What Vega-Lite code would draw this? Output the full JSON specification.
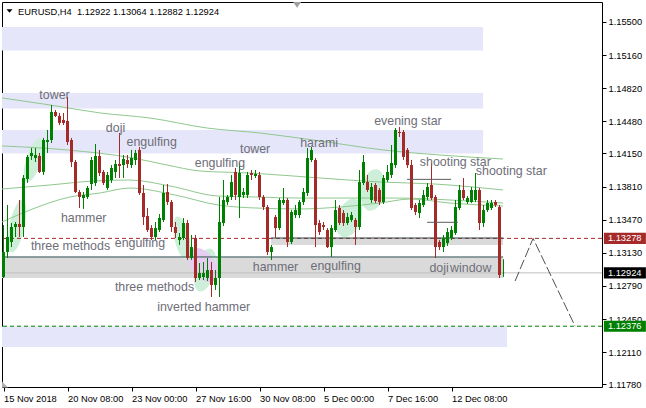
{
"$schema": "https://vega.github.io/schema/vega-lite/v6.json",
"width": 600, "height": 385,
"autosize": {"type": "none"},
"padding": {"left": 2, "top": 2, "right": 44, "bottom": 21},
"background": "white",
"config": {"view": {"stroke": "black", "strokeWidth": 1}, "font": "Liberation Sans", "scale": {"continuousPadding": 0}},
"datasets": {
"candles": [
{"i":0,"o":1.12881,"h":1.13415,"l":1.12871,"c":1.13138},
{"i":1,"o":1.13138,"h":1.13621,"l":1.13076,"c":1.13292},
{"i":2,"o":1.13241,"h":1.13436,"l":1.13189,"c":1.13395},
{"i":3,"o":1.13395,"h":1.13446,"l":1.13292,"c":1.13426},
{"i":4,"o":1.13426,"h":1.13672,"l":1.13292,"c":1.13395},
{"i":5,"o":1.13395,"h":1.13929,"l":1.13292,"c":1.13898},
{"i":6,"o":1.13888,"h":1.14134,"l":1.13847,"c":1.14114},
{"i":7,"o":1.14124,"h":1.14206,"l":1.14083,"c":1.14155},
{"i":8,"o":1.14103,"h":1.14206,"l":1.14062,"c":1.14134},
{"i":9,"o":1.14124,"h":1.14155,"l":1.13949,"c":1.13960},
{"i":10,"o":1.13960,"h":1.14309,"l":1.13929,"c":1.14288},
{"i":11,"o":1.14268,"h":1.14391,"l":1.14155,"c":1.14288},
{"i":12,"o":1.14288,"h":1.14648,"l":1.14257,"c":1.14576},
{"i":13,"o":1.14576,"h":1.14596,"l":1.14524,"c":1.14535},
{"i":14,"o":1.14535,"h":1.14566,"l":1.14442,"c":1.14463},
{"i":15,"o":1.14494,"h":1.14566,"l":1.14442,"c":1.14463},
{"i":16,"o":1.14483,"h":1.14730,"l":1.14237,"c":1.14268},
{"i":17,"o":1.14288,"h":1.14309,"l":1.14011,"c":1.14062},
{"i":18,"o":1.14062,"h":1.14083,"l":1.13744,"c":1.13754},
{"i":19,"o":1.13754,"h":1.13775,"l":1.13590,"c":1.13703},
{"i":20,"o":1.13692,"h":1.13754,"l":1.13580,"c":1.13723},
{"i":21,"o":1.13703,"h":1.13816,"l":1.13682,"c":1.13795},
{"i":22,"o":1.13836,"h":1.14114,"l":1.13775,"c":1.14083},
{"i":23,"o":1.13847,"h":1.14247,"l":1.13816,"c":1.14124},
{"i":24,"o":1.14124,"h":1.14186,"l":1.13918,"c":1.13949},
{"i":25,"o":1.13960,"h":1.13980,"l":1.13826,"c":1.13847},
{"i":26,"o":1.13795,"h":1.13960,"l":1.13775,"c":1.13929},
{"i":27,"o":1.13877,"h":1.14031,"l":1.13847,"c":1.14001},
{"i":28,"o":1.13960,"h":1.14083,"l":1.13898,"c":1.14042},
{"i":29,"o":1.14042,"h":1.14360,"l":1.13898,"c":1.14021},
{"i":30,"o":1.14031,"h":1.14134,"l":1.13898,"c":1.14093},
{"i":31,"o":1.14083,"h":1.14134,"l":1.14001,"c":1.14042},
{"i":32,"o":1.14031,"h":1.14186,"l":1.14001,"c":1.14103},
{"i":33,"o":1.14083,"h":1.14186,"l":1.14031,"c":1.14155},
{"i":34,"o":1.14186,"h":1.14216,"l":1.13723,"c":1.13744},
{"i":35,"o":1.13744,"h":1.13826,"l":1.13415,"c":1.13497},
{"i":36,"o":1.13508,"h":1.13590,"l":1.13343,"c":1.13364},
{"i":37,"o":1.13384,"h":1.13415,"l":1.13261,"c":1.13292},
{"i":38,"o":1.13292,"h":1.13446,"l":1.13261,"c":1.13384},
{"i":39,"o":1.13364,"h":1.13528,"l":1.13343,"c":1.13487},
{"i":40,"o":1.13467,"h":1.13826,"l":1.13446,"c":1.13744},
{"i":41,"o":1.13754,"h":1.13836,"l":1.13621,"c":1.13651},
{"i":42,"o":1.13651,"h":1.13672,"l":1.13343,"c":1.13395},
{"i":43,"o":1.13395,"h":1.13446,"l":1.13282,"c":1.13333},
{"i":44,"o":1.13261,"h":1.13333,"l":1.13210,"c":1.13292},
{"i":45,"o":1.13282,"h":1.13487,"l":1.13261,"c":1.13436},
{"i":46,"o":1.13436,"h":1.13467,"l":1.13056,"c":1.13076},
{"i":47,"o":1.13076,"h":1.13313,"l":1.13056,"c":1.13189},
{"i":48,"o":1.13282,"h":1.13313,"l":1.12830,"c":1.12871},
{"i":49,"o":1.12871,"h":1.13025,"l":1.12850,"c":1.12922},
{"i":50,"o":1.12881,"h":1.13035,"l":1.12850,"c":1.12922},
{"i":51,"o":1.12871,"h":1.13076,"l":1.12840,"c":1.12953},
{"i":52,"o":1.12953,"h":1.13035,"l":1.12676,"c":1.12799},
{"i":53,"o":1.12799,"h":1.12953,"l":1.12748,"c":1.12871},
{"i":54,"o":1.12871,"h":1.13703,"l":1.12676,"c":1.13446},
{"i":55,"o":1.13436,"h":1.13877,"l":1.13405,"c":1.13672},
{"i":56,"o":1.13651,"h":1.13723,"l":1.13621,"c":1.13703},
{"i":57,"o":1.13703,"h":1.13929,"l":1.13672,"c":1.13857},
{"i":58,"o":1.13960,"h":1.14001,"l":1.13672,"c":1.13723},
{"i":59,"o":1.13703,"h":1.14052,"l":1.13487,"c":1.13949},
{"i":60,"o":1.13723,"h":1.13795,"l":1.13692,"c":1.13754},
{"i":61,"o":1.13723,"h":1.13960,"l":1.13692,"c":1.13929},
{"i":62,"o":1.13949,"h":1.13980,"l":1.13877,"c":1.13929},
{"i":63,"o":1.13918,"h":1.13980,"l":1.13898,"c":1.13939},
{"i":64,"o":1.13929,"h":1.13960,"l":1.13672,"c":1.13703},
{"i":65,"o":1.13703,"h":1.13723,"l":1.13569,"c":1.13600},
{"i":66,"o":1.13600,"h":1.13621,"l":1.13107,"c":1.13138},
{"i":67,"o":1.13138,"h":1.13210,"l":1.13056,"c":1.13189},
{"i":68,"o":1.13497,"h":1.13518,"l":1.13282,"c":1.13384},
{"i":69,"o":1.13384,"h":1.13692,"l":1.13364,"c":1.13672},
{"i":70,"o":1.13641,"h":1.13795,"l":1.13621,"c":1.13672},
{"i":71,"o":1.13672,"h":1.13692,"l":1.13189,"c":1.13241},
{"i":72,"o":1.13241,"h":1.13569,"l":1.13220,"c":1.13549},
{"i":73,"o":1.13518,"h":1.13621,"l":1.13487,"c":1.13569},
{"i":74,"o":1.13518,"h":1.13672,"l":1.13487,"c":1.13651},
{"i":75,"o":1.13651,"h":1.13795,"l":1.13621,"c":1.13754},
{"i":76,"o":1.13744,"h":1.14206,"l":1.13713,"c":1.14103},
{"i":77,"o":1.14083,"h":1.14216,"l":1.14062,"c":1.14186},
{"i":78,"o":1.14083,"h":1.14103,"l":1.13189,"c":1.13415},
{"i":79,"o":1.13436,"h":1.13467,"l":1.13313,"c":1.13343},
{"i":80,"o":1.13415,"h":1.13446,"l":1.13364,"c":1.13395},
{"i":81,"o":1.13364,"h":1.13384,"l":1.13179,"c":1.13189},
{"i":82,"o":1.13189,"h":1.13415,"l":1.13087,"c":1.13384},
{"i":83,"o":1.13364,"h":1.13672,"l":1.13343,"c":1.13569},
{"i":84,"o":1.13590,"h":1.13621,"l":1.13415,"c":1.13436},
{"i":85,"o":1.13539,"h":1.13569,"l":1.13405,"c":1.13436},
{"i":86,"o":1.13436,"h":1.13539,"l":1.13415,"c":1.13497},
{"i":87,"o":1.13467,"h":1.13549,"l":1.13446,"c":1.13518},
{"i":88,"o":1.13467,"h":1.13487,"l":1.13210,"c":1.13395},
{"i":89,"o":1.13395,"h":1.13980,"l":1.13364,"c":1.13857},
{"i":90,"o":1.13847,"h":1.14134,"l":1.13826,"c":1.14062},
{"i":91,"o":1.13857,"h":1.13929,"l":1.13754,"c":1.13775},
{"i":92,"o":1.13672,"h":1.13847,"l":1.13641,"c":1.13806},
{"i":93,"o":1.13826,"h":1.13847,"l":1.13641,"c":1.13662},
{"i":94,"o":1.13775,"h":1.13795,"l":1.13621,"c":1.13651},
{"i":95,"o":1.13651,"h":1.13929,"l":1.13631,"c":1.13898},
{"i":96,"o":1.13877,"h":1.14031,"l":1.13857,"c":1.13960},
{"i":97,"o":1.13929,"h":1.14237,"l":1.13898,"c":1.14052},
{"i":98,"o":1.14031,"h":1.14411,"l":1.14001,"c":1.14391},
{"i":99,"o":1.14370,"h":1.14422,"l":1.14319,"c":1.14360},
{"i":100,"o":1.14370,"h":1.14391,"l":1.14083,"c":1.14114},
{"i":101,"o":1.14186,"h":1.14206,"l":1.14001,"c":1.14031},
{"i":102,"o":1.14031,"h":1.14083,"l":1.13569,"c":1.13590},
{"i":103,"o":1.13621,"h":1.13641,"l":1.13518,"c":1.13549},
{"i":104,"o":1.13539,"h":1.13672,"l":1.13487,"c":1.13641},
{"i":105,"o":1.13621,"h":1.13775,"l":1.13600,"c":1.13723},
{"i":106,"o":1.13703,"h":1.13847,"l":1.13672,"c":1.13806},
{"i":107,"o":1.13826,"h":1.14052,"l":1.13672,"c":1.13692},
{"i":108,"o":1.13703,"h":1.13723,"l":1.13076,"c":1.13189},
{"i":109,"o":1.13241,"h":1.13261,"l":1.13159,"c":1.13189},
{"i":110,"o":1.13189,"h":1.13313,"l":1.13138,"c":1.13282},
{"i":111,"o":1.13230,"h":1.13384,"l":1.13200,"c":1.13343},
{"i":112,"o":1.13282,"h":1.13405,"l":1.13261,"c":1.13364},
{"i":113,"o":1.13333,"h":1.13672,"l":1.13313,"c":1.13600},
{"i":114,"o":1.13590,"h":1.13826,"l":1.13569,"c":1.13775},
{"i":115,"o":1.13775,"h":1.13898,"l":1.13672,"c":1.13692},
{"i":116,"o":1.13651,"h":1.13713,"l":1.13631,"c":1.13692},
{"i":117,"o":1.13651,"h":1.13806,"l":1.13641,"c":1.13775},
{"i":118,"o":1.13672,"h":1.13949,"l":1.13651,"c":1.13775},
{"i":119,"o":1.13775,"h":1.13795,"l":1.13364,"c":1.13436},
{"i":120,"o":1.13436,"h":1.13621,"l":1.13395,"c":1.13569},
{"i":121,"o":1.13569,"h":1.13672,"l":1.13549,"c":1.13641},
{"i":122,"o":1.13590,"h":1.13672,"l":1.13569,"c":1.13641},
{"i":123,"o":1.13651,"h":1.13672,"l":1.13600,"c":1.13621},
{"i":124,"o":1.13600,"h":1.13621,"l":1.12871,"c":1.12902},
{"i":125,"o":1.12922,"h":1.13064,"l":1.12882,"c":1.12924}
],
"ma": [
{"line":"a","i":-0.375,"p":1.14720},{"line":"a","i":11.6,"p":1.14648},{"line":"a","i":24.1,"p":1.14566},{"line":"a","i":36.6,"p":1.14514},{"line":"a","i":50.9,"p":1.14411},{"line":"a","i":64.1,"p":1.14360},{"line":"a","i":79.1,"p":1.14278},{"line":"a","i":94.9,"p":1.14186},{"line":"a","i":109.1,"p":1.14134},{"line":"a","i":124.9,"p":1.14093},
{"line":"b","i":-0.375,"p":1.14227},{"line":"b","i":15.9,"p":1.14186},{"line":"b","i":32.4,"p":1.14103},{"line":"b","i":40.9,"p":1.14031},{"line":"b","i":49.1,"p":1.13970},{"line":"b","i":61.6,"p":1.13949},{"line":"b","i":79.1,"p":1.13898},{"line":"b","i":94.1,"p":1.13857},{"line":"b","i":107.9,"p":1.13836},{"line":"b","i":124.9,"p":1.13775},
{"line":"c","i":-0.375,"p":1.13785},{"line":"c","i":11.6,"p":1.13826},{"line":"c","i":22.4,"p":1.13867},{"line":"c","i":31.6,"p":1.13877},{"line":"c","i":41.6,"p":1.13816},{"line":"c","i":53.6,"p":1.13713},{"line":"c","i":62.9,"p":1.13703},{"line":"c","i":74.1,"p":1.13692},{"line":"c","i":84.1,"p":1.13692},{"line":"c","i":99.1,"p":1.13692},{"line":"c","i":111.6,"p":1.13672},{"line":"c","i":124.9,"p":1.13641},
{"line":"d","i":-0.375,"p":1.13446},{"line":"d","i":6.6,"p":1.13569},{"line":"d","i":16.6,"p":1.13703},{"line":"d","i":24.1,"p":1.13744},{"line":"d","i":31.6,"p":1.13795},{"line":"d","i":42.9,"p":1.13723},{"line":"d","i":53.6,"p":1.13621},{"line":"d","i":62.9,"p":1.13590},{"line":"d","i":74.1,"p":1.13580},{"line":"d","i":84.1,"p":1.13600},{"line":"d","i":94.1,"p":1.13641},{"line":"d","i":101.6,"p":1.13682},{"line":"d","i":111.6,"p":1.13641},{"line":"d","i":124.9,"p":1.13610}
],
"zones": [
{"kind":"lav","i1":-0.375,"i2":119.9,"p1":1.15449,"p2":1.15207},
{"kind":"lav","i1":-0.375,"i2":119.9,"p1":1.14771,"p2":1.14612},
{"kind":"lav","i1":-0.375,"i2":119.9,"p1":1.14391,"p2":1.14150},
{"kind":"lav","i1":-0.375,"i2":125.9,"p1":1.12373,"p2":1.12162},
{"kind":"gray","i1":-0.375,"i2":124.9,"p1":1.13087,"p2":1.12871},
{"kind":"gray","i1":66.9,"i2":124.9,"p1":1.13282,"p2":1.13210}
],
"labels": [
{"t":"tower","i":12.75,"p":1.14704},
{"t":"doji","i":28,"p":1.14370},
{"t":"engulfing","i":37.05,"p":1.14227},
{"t":"tower","i":62.9,"p":1.14158},
{"t":"engulfing","i":54.1,"p":1.14014},
{"t":"hammer","i":20.05,"p":1.13443},
{"t":"three methods","i":16.75,"p":1.13159},
{"t":"engulfing","i":34.1,"p":1.13192},
{"t":"three methods","i":37.75,"p":1.12737},
{"t":"inverted hammer","i":50.05,"p":1.12535},
{"t":"hammer","i":68,"p":1.12948},
{"t":"engulfing","i":83.05,"p":1.12953},
{"t":"harami","i":78.9,"p":1.14213},
{"t":"evening star","i":101.1,"p":1.14442},
{"t":"shooting star","i":112.95,"p":1.14021},
{"t":"shooting star","i":126.95,"p":1.13929},
{"t":"doji","i":108.9,"p":1.12936},
{"t":"window","i":116.8,"p":1.12936}
],
"boxes": [
{"t":"1.13278","p":1.13278,"p1":1.13221,"p2":1.13335,"k":"r"},
{"t":"1.12924","p":1.12924,"p1":1.12867,"p2":1.12981,"k":"k"},
{"t":"1.12376","p":1.12376,"p1":1.12319,"p2":1.12433,"k":"g"}
]
},
"layer": [
{"data":{"name":"zones"},"mark":{"type":"rect"},
 "encoding":{"x":{"field":"i1","type":"quantitative","scale":{"domain":[-0.375,149.625],"nice":false,"zero":false,"padding":0},
   "axis":{"orient":"bottom","values":[0,16,32,48,64,80,96,112],"tickCount":40,"labelExpr":"['15 Nov 2018','20 Nov 08:00','23 Nov 00:00','27 Nov 16:00','30 Nov 08:00','5 Dec 00:00','7 Dec 16:00','12 Dec 08:00'][round(datum.value/16)]","title":null,"grid":false,"domain":false,"ticks":true,"tickSize":4,"tickColor":"black","labelAlign":"left","labelBaseline":"top","labelPadding":3,"labelFont":"Liberation Sans","labelFontSize":9.3,"labelColor":"black","labelOverlap":false,"labelFlush":false,"labelBound":false}},
  "x2":{"field":"i2"},
  "y":{"field":"p1","type":"quantitative","scale":{"domain":[1.11752,1.15705],"nice":false,"zero":false,"padding":0},
   "axis":{"orient":"right","values":[1.155,1.1516,1.1482,1.1448,1.1415,1.1381,1.1347,1.1313,1.1279,1.1245,1.1211,1.1178],"tickCount":40,"format":".5f","title":null,"grid":false,"domain":false,"ticks":true,"tickSize":4,"tickColor":"black","labelPadding":2,"labelFont":"Liberation Sans","labelFontSize":9.3,"labelColor":"black","labelBaseline":"middle","labelAlign":"left","labelBound":false,"labelOverlap":false,"labelFlush":false}},
  "y2":{"field":"p2"},
  "color":{"field":"kind","type":"nominal","scale":{"domain":["lav","gray"],"range":["#e6e6fa","#dadada"]},"legend":null}}},
{"data":{"values":[{"i":3.4,"p":1.13405}]},"mark":{"type":"point","filled":true,"opacity":1,"color":"#cdeed9","shape":"M0,-1 A0.28,1 0 1,1 0,1 A0.28,1 0 1,1 0,-1 Z","size":2916,"angle":12,"strokeWidth":0},
 "encoding":{"x":{"field":"i","type":"quantitative","scale":{"domain":[-0.375,149.625],"nice":false,"zero":false,"padding":0}},"y":{"field":"p","type":"quantitative","scale":{"domain":[1.11752,1.15705],"nice":false,"zero":false,"padding":0}}}},
{"data":{"values":[{"i":7.6,"p":1.14083}]},"mark":{"type":"point","filled":true,"opacity":1,"color":"#cdeed9","shape":"M0,-1 A0.33,1 0 1,1 0,1 A0.33,1 0 1,1 0,-1 Z","size":2116,"angle":18,"strokeWidth":0},
 "encoding":{"x":{"field":"i","type":"quantitative","scale":{"domain":[-0.375,149.625],"nice":false,"zero":false,"padding":0}},"y":{"field":"p","type":"quantitative","scale":{"domain":[1.11752,1.15705],"nice":false,"zero":false,"padding":0}}}},
{"data":{"values":[{"i":44.6,"p":1.13282}]},"mark":{"type":"point","filled":true,"opacity":1,"color":"#cdeed9","shape":"M0,-1 A0.34,1 0 1,1 0,1 A0.34,1 0 1,1 0,-1 Z","size":1936,"angle":-12,"strokeWidth":0},
 "encoding":{"x":{"field":"i","type":"quantitative","scale":{"domain":[-0.375,149.625],"nice":false,"zero":false,"padding":0}},"y":{"field":"p","type":"quantitative","scale":{"domain":[1.11752,1.15705],"nice":false,"zero":false,"padding":0}}}},
{"data":{"values":[{"i":50.4,"p":1.12953}]},"mark":{"type":"point","filled":true,"opacity":1,"color":"#cdeed9","shape":"M0,-1 A0.45,1 0 1,1 0,1 A0.45,1 0 1,1 0,-1 Z","size":1936,"angle":15,"strokeWidth":0},
 "encoding":{"x":{"field":"i","type":"quantitative","scale":{"domain":[-0.375,149.625],"nice":false,"zero":false,"padding":0}},"y":{"field":"p","type":"quantitative","scale":{"domain":[1.11752,1.15705],"nice":false,"zero":false,"padding":0}}}},
{"data":{"values":[{"i":49.9,"p":1.13004}]},"mark":{"type":"point","filled":true,"opacity":1,"color":"#e4cff2","shape":"M0,-1 A0.63,1 0 1,1 0,1 A0.63,1 0 1,1 0,-1 Z","size":1444,"angle":-35,"strokeWidth":0},
 "encoding":{"x":{"field":"i","type":"quantitative","scale":{"domain":[-0.375,149.625],"nice":false,"zero":false,"padding":0}},"y":{"field":"p","type":"quantitative","scale":{"domain":[1.11752,1.15705],"nice":false,"zero":false,"padding":0}}}},
{"data":{"values":[{"i":86.4,"p":1.13487}]},"mark":{"type":"point","filled":true,"opacity":1,"color":"#cdeed9","shape":"M0,-1 A0.6,1 0 1,1 0,1 A0.6,1 0 1,1 0,-1 Z","size":1600,"angle":20,"strokeWidth":0},
 "encoding":{"x":{"field":"i","type":"quantitative","scale":{"domain":[-0.375,149.625],"nice":false,"zero":false,"padding":0}},"y":{"field":"p","type":"quantitative","scale":{"domain":[1.11752,1.15705],"nice":false,"zero":false,"padding":0}}}},
{"data":{"values":[{"i":92.4,"p":1.13775}]},"mark":{"type":"point","filled":true,"opacity":1,"color":"#cdeed9","shape":"M0,-1 A0.57,1 0 1,1 0,1 A0.57,1 0 1,1 0,-1 Z","size":1764,"angle":10,"strokeWidth":0},
 "encoding":{"x":{"field":"i","type":"quantitative","scale":{"domain":[-0.375,149.625],"nice":false,"zero":false,"padding":0}},"y":{"field":"p","type":"quantitative","scale":{"domain":[1.11752,1.15705],"nice":false,"zero":false,"padding":0}}}},
{"data":{"name":"ma"},"mark":{"type":"line","strokeWidth":1,"color":"#8fc88f","interpolate":"monotone"},
 "encoding":{"x":{"field":"i","type":"quantitative","scale":{"domain":[-0.375,149.625],"nice":false,"zero":false,"padding":0}},"y":{"field":"p","type":"quantitative","scale":{"domain":[1.11752,1.15705],"nice":false,"zero":false,"padding":0}},"detail":{"field":"line"}}},
{"data":{"values":[{"p":1.12924}]},"mark":{"type":"rule","color":"#c0c0c0","strokeWidth":1},
 "encoding":{"y":{"field":"p","type":"quantitative","scale":{"domain":[1.11752,1.15705],"nice":false,"zero":false,"padding":0}}}},
{"data":{"values":[{"p":1.13278}]},"mark":{"type":"rule","color":"#a52a2a","strokeWidth":1,"strokeDash":[4,3]},
 "encoding":{"y":{"field":"p","type":"quantitative","scale":{"domain":[1.11752,1.15705],"nice":false,"zero":false,"padding":0}}}},
{"data":{"values":[{"p":1.12376}]},"mark":{"type":"rule","color":"#008000","strokeWidth":1,"strokeDash":[4,3]},
 "encoding":{"y":{"field":"p","type":"quantitative","scale":{"domain":[1.11752,1.15705],"nice":false,"zero":false,"padding":0}}}},
{"data":{"values":[{"i1":-0.375,"i2":124.9,"p":1.13087},{"i1":66.9,"i2":124.9,"p":1.13282}]},"mark":{"type":"rule","color":"#2f4f4f","strokeWidth":1},
 "encoding":{"x":{"field":"i1","type":"quantitative","scale":{"domain":[-0.375,149.625],"nice":false,"zero":false,"padding":0}},"x2":{"field":"i2"},"y":{"field":"p","type":"quantitative","scale":{"domain":[1.11752,1.15705],"nice":false,"zero":false,"padding":0}}}},
{"data":{"name":"candles"},"mark":{"type":"rule","strokeWidth":1},
 "encoding":{"x":{"field":"i","type":"quantitative","scale":{"domain":[-0.375,149.625],"nice":false,"zero":false,"padding":0}},
  "y":{"field":"l","type":"quantitative","scale":{"domain":[1.11752,1.15705],"nice":false,"zero":false,"padding":0}},
  "y2":{"field":"h"},
  "color":{"condition":{"test":"datum.c>=datum.o","value":"#008000"},"value":"#a52a2a"}}},
{"data":{"name":"candles"},"mark":{"type":"bar","size":3,"orient":"vertical"},
 "encoding":{"x":{"field":"i","type":"quantitative","scale":{"domain":[-0.375,149.625],"nice":false,"zero":false,"padding":0}},
  "y":{"field":"o","type":"quantitative","scale":{"domain":[1.11752,1.15705],"nice":false,"zero":false,"padding":0}},"y2":{"field":"c"},
  "color":{"condition":{"test":"datum.c>=datum.o","value":"#008000"},"value":"#a52a2a"}}},
{"data":{"values":[{"i1":100.9,"i2":111.9,"p":1.13884},{"i1":105.9,"i2":113.6,"p":1.13443}]},"mark":{"type":"rule","color":"#5a5a5a","strokeWidth":1},
 "encoding":{"x":{"field":"i1","type":"quantitative","scale":{"domain":[-0.375,149.625],"nice":false,"zero":false,"padding":0}},"x2":{"field":"i2"},"y":{"field":"p","type":"quantitative","scale":{"domain":[1.11752,1.15705],"nice":false,"zero":false,"padding":0}}}},
{"data":{"values":[{"i":127.9,"p":1.12840},{"i":132.4,"p":1.13278},{"i":142.9,"p":1.12376}]},"mark":{"type":"line","color":"#505050","strokeWidth":1,"strokeDash":[10,3]},
 "encoding":{"x":{"field":"i","type":"quantitative","scale":{"domain":[-0.375,149.625],"nice":false,"zero":false,"padding":0}},"y":{"field":"p","type":"quantitative","scale":{"domain":[1.11752,1.15705],"nice":false,"zero":false,"padding":0}}}},
{"data":{"name":"labels"},"mark":{"type":"text","align":"center","baseline":"alphabetic","font":"Liberation Sans","fontSize":12.4,"color":"#6e6e78"},
 "encoding":{"x":{"field":"i","type":"quantitative","scale":{"domain":[-0.375,149.625],"nice":false,"zero":false,"padding":0}},"y":{"field":"p","type":"quantitative","scale":{"domain":[1.11752,1.15705],"nice":false,"zero":false,"padding":0}},"text":{"field":"t"}}},
{"data":{"values":[{"t":"EURUSD,H4\u00a0 1.12922 1.13064 1.12882 1.12924","i":3.625,"p":1.15572}]},"mark":{"type":"text","align":"left","baseline":"alphabetic","font":"Liberation Sans","fontSize":9.3,"color":"black"},
 "encoding":{"x":{"field":"i","type":"quantitative","scale":{"domain":[-0.375,149.625],"nice":false,"zero":false,"padding":0}},"y":{"field":"p","type":"quantitative","scale":{"domain":[1.11752,1.15705],"nice":false,"zero":false,"padding":0}},"text":{"field":"t"}}},
{"data":{"values":[{"i":1.5,"p":1.15613}]},"mark":{"type":"point","filled":true,"opacity":1,"color":"black","shape":"M-1,-0.6 L1,-0.6 L0,0.6 Z","size":36,"strokeWidth":0},
 "encoding":{"x":{"field":"i","type":"quantitative","scale":{"domain":[-0.375,149.625],"nice":false,"zero":false,"padding":0}},"y":{"field":"p","type":"quantitative","scale":{"domain":[1.11752,1.15705],"nice":false,"zero":false,"padding":0}}}},
{"data":{"values":[{"i":73.4,"p":1.15675}]},"mark":{"type":"point","filled":true,"opacity":1,"color":"#a0a0a0","shape":"M-1,-0.7 L1,-0.7 L0,0.7 Z","size":64,"strokeWidth":0},
 "encoding":{"x":{"field":"i","type":"quantitative","scale":{"domain":[-0.375,149.625],"nice":false,"zero":false,"padding":0}},"y":{"field":"p","type":"quantitative","scale":{"domain":[1.11752,1.15705],"nice":false,"zero":false,"padding":0}}}},
{"data":{"values":[{"i":0.375,"p":1.11777}]},"mark":{"type":"point","filled":true,"opacity":1,"color":"#b0b0b0","shape":"M-1,-1 L-1,1 L1,1 Z","size":36,"strokeWidth":0},
 "encoding":{"x":{"field":"i","type":"quantitative","scale":{"domain":[-0.375,149.625],"nice":false,"zero":false,"padding":0}},"y":{"field":"p","type":"quantitative","scale":{"domain":[1.11752,1.15705],"nice":false,"zero":false,"padding":0}}}},
{"data":{"name":"boxes"},"mark":{"type":"rect"},
 "encoding":{"x":{"datum":150.1,"type":"quantitative","scale":{"domain":[-0.375,149.625],"nice":false,"zero":false,"padding":0}},"x2":{"datum":160.6},
  "y":{"field":"p1","type":"quantitative","scale":{"domain":[1.11752,1.15705],"nice":false,"zero":false,"padding":0}},"y2":{"field":"p2"},
  "color":{"condition":[{"test":"datum.k=='r'","value":"#a52a2a"},{"test":"datum.k=='g'","value":"#008000"}],"value":"#000000"}}},
{"data":{"name":"boxes"},"mark":{"type":"text","align":"left","baseline":"middle","font":"Liberation Sans","fontSize":9.3,"color":"white"},
 "encoding":{"x":{"datum":151.1,"type":"quantitative","scale":{"domain":[-0.375,149.625],"nice":false,"zero":false,"padding":0}},
  "y":{"field":"p","type":"quantitative","scale":{"domain":[1.11752,1.15705],"nice":false,"zero":false,"padding":0}},"text":{"field":"t"}}}
]
}
